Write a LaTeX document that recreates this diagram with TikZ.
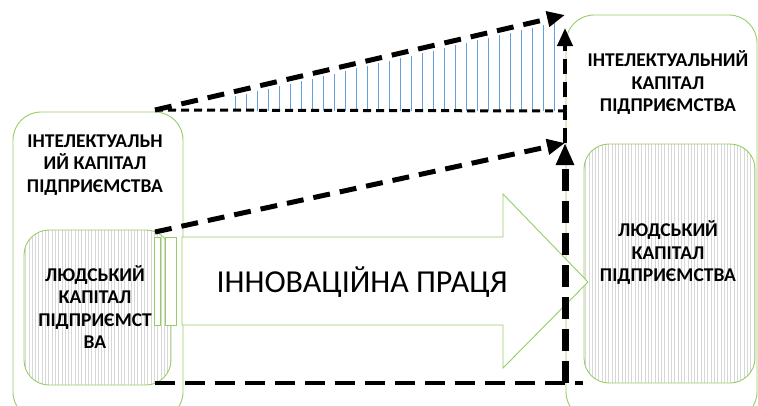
\documentclass[tikz,border=0pt]{standalone}
\usepackage{fontspec}
\setmainfont{Carlito}
\usetikzlibrary{arrows.meta}
\definecolor{boxgreen}{RGB}{150,205,100}
\definecolor{hatchblue}{RGB}{100,160,220}
\definecolor{stripegray}{RGB}{215,215,215}
\tikzset{
  box/.style={draw=boxgreen, line width=0.9pt, rounded corners=#1, inner sep=0pt},
  box/.default=28pt,
  striped/.style={path picture={
      \foreach \i in {0,...,70}
        \draw[stripegray, line width=0.5pt] ([xshift=\i*3.3pt+1.5pt]path picture bounding box.south west) -- ++(0pt,400pt);}},
  lbl/.style={font=\fontsize{19.5}{22.5}\selectfont\bfseries, align=center, inner sep=0pt},
  thinrect/.style={draw=boxgreen, line width=0.9pt, fill=white},
  dashtop/.style={line width=5pt, dash pattern=on 17pt off 10pt, -{Triangle[length=18pt,width=15pt]}},
  dashhor/.style={line width=3pt, dash pattern=on 8pt off 5pt},
  dashvthin/.style={line width=4pt, dash pattern=on 15pt off 8pt, -{Triangle[length=18pt,width=15pt]}},
  dashvthick/.style={line width=7pt, dash pattern=on 22pt off 10pt, -{Triangle[length=22pt,width=17pt]}},
  dashbot/.style={line width=4.5pt, dash pattern=on 20pt off 10pt},
  hatch/.style={hatchblue, line width=1pt},
}
\begin{document}
\begin{tikzpicture}[x=1pt,y=-1pt]
\useasboundingbox (0,0) rectangle (758,405);
\begin{scope}
\clip (0,0) rectangle (758,405);
% right boxes
\node[box, minimum width=191pt, minimum height=405pt] (ro) at (661.5,217.5) {};
\node[box=25pt, striped, minimum width=171pt, minimum height=239pt] (ri) at (669.5,263.5) {};
% left boxes
\node[box, minimum width=170pt, minimum height=308pt] (lo) at (98,266) {};
\node[box=25pt, striped, minimum width=147pt, minimum height=155pt] (li) at (97.5,307.5) {};
\end{scope}
% thin rectangles
\draw[thinrect] (154,237) rectangle (160,325);
\draw[thinrect] (165,237) rectangle (176,325);
% big arrow
\draw[draw=boxgreen, line width=0.9pt, fill=white] (182,237) -- (503,237) -- (503,194) -- (588,282) -- (503,368) -- (503,325) -- (182,325) -- cycle;
\node[font=\fontsize{32}{32}\selectfont, inner sep=0pt] (work) at (362,282) {ІННОВАЦІЙНА ПРАЦЯ};
% labels
\node[lbl] (lot) at (95,165) {ІНТЕЛЕКТУАЛЬН\\ИЙ КАПІТАЛ\\ПІДПРИЄМСТВА};
\node[lbl] (lit) at (95,307) {ЛЮДСЬКИЙ\\КАПІТАЛ\\ПІДПРИЄМСТ\\ВА};
\node[lbl] (rot) at (668,83) {ІНТЕЛЕКТУАЛЬНИЙ\\КАПІТАЛ\\ПІДПРИЄМСТВА};
\node[lbl] (rit) at (668,253) {ЛЮДСЬКИЙ\\КАПІТАЛ\\ПІДПРИЄМСТВА};
% coordinates for connectors
\coordinate (a) at (155,110);
\coordinate (b) at (565,15);
\coordinate (c) at (155,232);
\coordinate (d) at (565,143);
\coordinate (e) at (565,111);
\coordinate (f) at (565,28);
\coordinate (g) at (155,383);
\coordinate (h) at (583,383);
\coordinate (k) at (565,383);
% blue hatch
\foreach \x in {235,246,...,555}
  \draw[hatch] (\x,111) -- (\x,{110-(\x-155)*0.2317+5});
% dashed connectors
\draw[dashhor] (a) -- (e);
\draw[dashtop] (a) -- (b);
\draw[dashtop] (c) -- (d);
\draw[dashbot] (g) -- (h);
\draw[dashvthin] (d) -- (f);
\draw[dashvthick] (k) -- (d);
\end{tikzpicture}
\end{document}
